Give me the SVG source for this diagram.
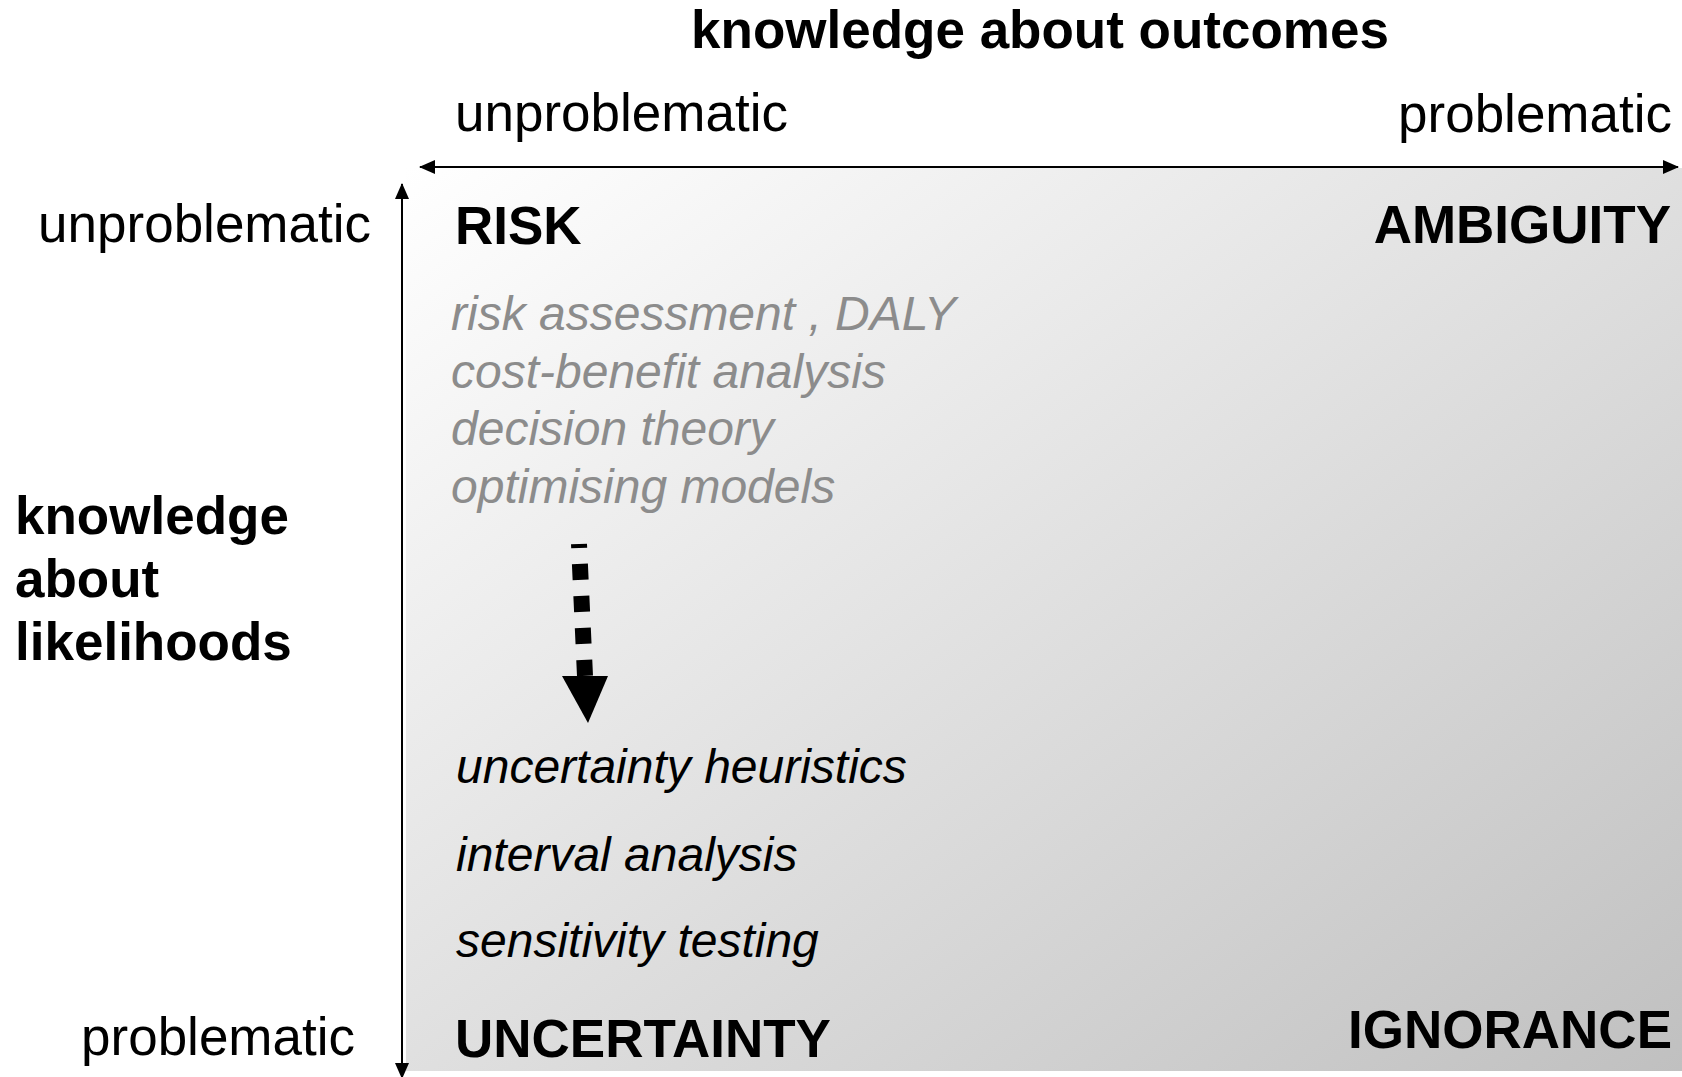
<svg xmlns="http://www.w3.org/2000/svg" width="1682" height="1077" viewBox="0 0 1682 1077">
<style>
  text { font-family: "Liberation Sans", Arial, sans-serif; fill: #000; }
  .b { font-weight: bold; font-size: 53px; }
  .r { font-size: 53px; }
  .gi { font-style: italic; font-size: 48px; fill: #8c8c8c; }
  .bi { font-style: italic; font-size: 48px; fill: #000; }
  .axis { stroke: #000; stroke-width: 2; fill: none; }
</style>
<defs>
  <linearGradient id="bg" x1="0" y1="0" x2="1" y2="1">
    <stop offset="0" stop-color="#ffffff"/>
    <stop offset="1" stop-color="#c0c0c0"/>
  </linearGradient>
  <marker id="ah" markerWidth="16" markerHeight="14" refX="15" refY="7" orient="auto-start-reverse" markerUnits="userSpaceOnUse">
    <path d="M0,0 L16,7 L0,14 Z" fill="#000"/>
  </marker>
</defs>
<rect x="406" y="168" width="1276" height="903" fill="url(#bg)"/>
<g id="connectors">
  <line class="axis" x1="420" y1="167" x2="1678" y2="167" marker-start="url(#ah)" marker-end="url(#ah)"/>
  <line class="axis" x1="402" y1="184" x2="402" y2="1078" marker-start="url(#ah)" marker-end="url(#ah)"/>
  <line x1="579" y1="544" x2="585" y2="676" stroke="#000" stroke-width="16" stroke-dasharray="16 16" stroke-dashoffset="12"/>
  <polygon points="562,676 608,676 588,723" fill="#000"/>
</g>
<g id="title"><text class="b" x="1040" y="48" text-anchor="middle">knowledge about outcomes</text></g>
<g id="x-low"><text class="r" x="455" y="131">unproblematic</text></g>
<g id="x-high"><text class="r" x="1672" y="132" text-anchor="end">problematic</text></g>
<g id="y-low"><text class="r" x="371" y="242" text-anchor="end">unproblematic</text></g>
<g id="y-high"><text class="r" x="355" y="1055" text-anchor="end">problematic</text></g>
<g id="y-title">
  <text class="b" x="15" y="534">knowledge</text>
  <text class="b" x="15" y="597">about</text>
  <text class="b" x="15" y="660">likelihoods</text>
</g>
<g id="risk">
  <text class="b" x="455" y="244">RISK</text>
  <text class="gi" x="451" y="330">risk assessment , DALY</text>
  <text class="gi" x="451" y="388">cost-benefit analysis</text>
  <text class="gi" x="451" y="445">decision theory</text>
  <text class="gi" x="451" y="503">optimising models</text>
</g>
<g id="ambiguity"><text class="b" x="1671" y="243" text-anchor="end">AMBIGUITY</text></g>
<g id="uncertainty">
  <text class="bi" x="456" y="783">uncertainty heuristics</text>
  <text class="bi" x="456" y="871">interval analysis</text>
  <text class="bi" x="456" y="957">sensitivity testing</text>
  <text class="b" x="455" y="1057">UNCERTAINTY</text>
</g>
<g id="ignorance"><text class="b" x="1672" y="1048" text-anchor="end">IGNORANCE</text></g>
</svg>
